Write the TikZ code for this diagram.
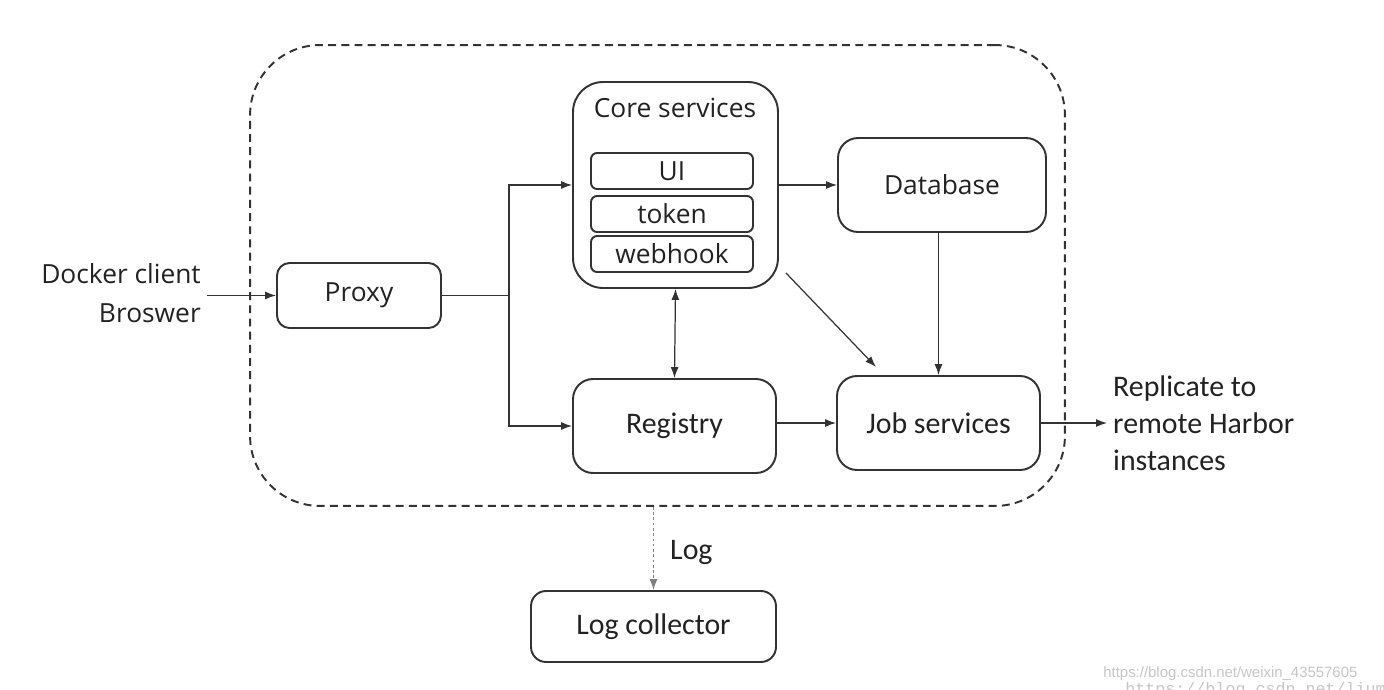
\documentclass[tikz,border=0pt]{standalone}
\usepackage{fontspec}
\setmainfont{Open Sans}
\newfontfamily\calibri{Carlito}
\newfontfamily\marcasans{Liberation Sans}
\newfontfamily\marcamono{Liberation Mono}
\usetikzlibrary{arrows.meta}
\definecolor{linea}{HTML}{333333}
\definecolor{texto}{HTML}{222222}
\tikzset{
  caja/.style={draw=linea, line width=1.1pt, rounded corners=0.4cm, text=texto,
    align=center, font=\fontsize{15}{18}\selectfont},
  cajacal/.style={caja, font=\calibri\fontsize{17}{20}\selectfont},
  sub/.style={caja, rounded corners=0.12cm, inner sep=1pt,
    minimum width=3.24cm, minimum height=0.72cm},
  flecha/.style={draw=linea, line width=0.7pt, -{Latex[length=2.2mm,width=1.6mm]}},
}
\begin{document}
\begin{tikzpicture}[x=0.02cm, y=-0.02cm]
      \useasboundingbox (0,0) rectangle (1384,690);

      % Contenedor de Harbor
      \node[draw=linea, line width=1.1pt, dash pattern=on 4.5pt off 3pt,
        rounded corners=1.4cm, minimum width=16.3cm, minimum height=9.22cm]
        (harbor) at (657.5,275.5) {};

      % Core services con sus componentes
      \node[caja, rounded corners=0.6cm, minimum width=4.1cm, minimum height=4.12cm]
        (core) at (675.5,185) {};
      \node[text=texto, font=\fontsize{15}{18}\selectfont] (coretit) at (675,108) {Core services};
      \node[sub] (ui) at (672,171) {UI};
      \node[sub] (token) at (672,214) {token};
      \node[sub] (webhook) at (672,254) {webhook};

      % Resto de cajas
      \node[caja, minimum width=4.16cm, minimum height=1.88cm] (database) at (942,185) {Database};
      \node[caja, rounded corners=0.25cm, minimum width=3.28cm, minimum height=1.3cm]
        (proxy) at (359,295.5) {Proxy};
      \node[cajacal, minimum width=4.06cm, minimum height=1.88cm] (registry) at (674.5,426) {Registry};
      \node[cajacal, minimum width=4.06cm, minimum height=1.88cm] (job) at (938.5,423) {Job services};
      \node[cajacal, rounded corners=0.3cm, minimum width=4.9cm, minimum height=1.42cm]
        (logc) at (653.5,626.5) {Log collector};

      % Textos externos
      \node[anchor=east, align=right, text=texto, font=\fontsize{15}{22}\selectfont]
        (cliente) at (207,293) {Docker client\\Broswer};
      \node[anchor=west, align=left, text=texto, font=\calibri\fontsize{17}{21}\selectfont]
        (remota) at (1107,423) {Replicate to\\remote Harbor\\instances};
      \node[anchor=west, text=texto, font=\calibri\fontsize{17}{20}\selectfont]
        (loglbl) at (664,552) {Log};

      % Conexiones
      \coordinate (reparto) at (509,295.5);
      \coordinate (diagA) at (786,273);
      \coordinate (diagB) at (876,367);
      \draw[flecha] (cliente.east |- proxy.west) -- (proxy.west);
      \draw[draw=linea, line width=1pt] (proxy.east) -- (reparto);
      \draw[flecha] (reparto) |- (core.west);
      \draw[flecha] (reparto) |- (registry.west);
      \draw[flecha] (core.east) -- (database.west);
      \draw[flecha, {Latex[length=2.2mm,width=1.6mm]}-{Latex[length=2.2mm,width=1.6mm]}]
        (core.south) -- (registry.north);
      \draw[flecha] (diagA) -- (diagB);
      \draw[flecha] (job.north |- database.south) -- (job.north);
      \draw[flecha] (job.west -| registry.east) -- (job.west);
      \draw[flecha] (job.east) -- (remota.west);
      \draw[flecha, draw=gray, dash pattern=on 1.5pt off 1.5pt]
        (harbor.south -| logc.north) -- (logc.north);

      % Marca de agua
      \begin{scope}
        \clip (0,0) rectangle (1384,690);
        \node[anchor=base west, inner sep=0, text=gray!45,
          font=\marcasans\fontsize{8.5}{10}\selectfont]
          (marca) at (1103,677) {https://blog.csdn.net/weixin\_43557605};
        \node[anchor=base west, inner sep=0, text=gray!45,
          font=\marcamono\fontsize{9.5}{10}\selectfont]
          (marcab) at (1125,694) {https://blog.csdn.net/lium};
      \end{scope}
    \end{tikzpicture}
\end{document}
